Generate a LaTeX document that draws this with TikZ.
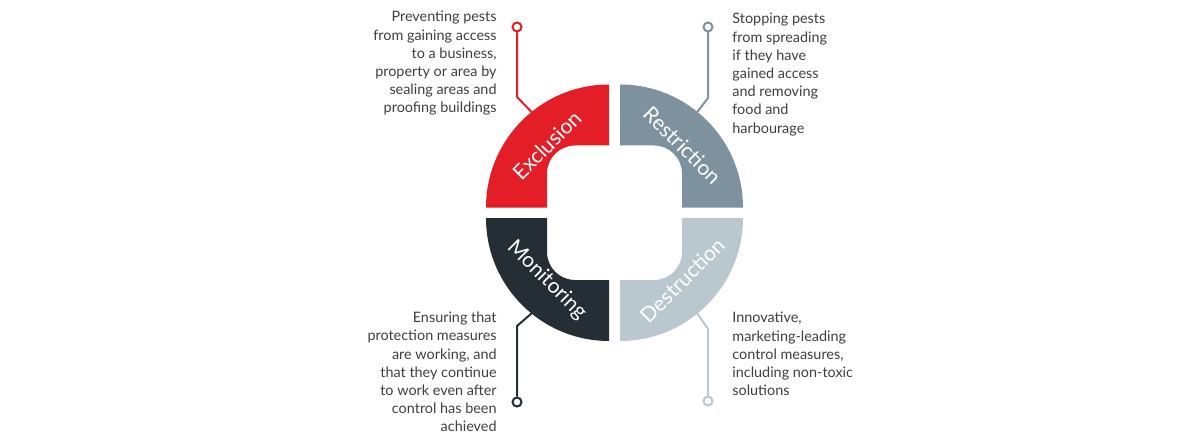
\documentclass[tikz,border=0pt]{standalone}
\usepackage{fontspec}
\setmainfont{Lato}
\usepackage{xcolor}
\usetikzlibrary{calc}
\definecolor{exred}{HTML}{E31E26}
\definecolor{rsgrey}{HTML}{7D919E}
\definecolor{mndark}{HTML}{262E35}
\definecolor{dslight}{HTML}{B9C7CE}
\definecolor{txgrey}{HTML}{3E3E3E}
\tikzset{
  ringseg/.pic = {
    \fill (-62,0) -- (-123,0) arc[start angle=180, end angle=90, radius=123]
      -- (0,62) -- (-34,62) arc[start angle=90, end angle=180, radius=28]
      -- cycle;
  },
  seglbl/.style = {text=white, font=\fontsize{10.5}{12}\selectfont, inner sep=0pt},
  desc/.style   = {text=txgrey, font=\fontsize{7.2}{9.1}\selectfont, inner sep=0pt},
  pin/.style    = {circle, draw=#1, line width=1pt, fill=white,
                   minimum size=4.5pt, inner sep=0pt},
  lnk/.style    = {draw=#1, line width=1pt},
}
\begin{document}
\begin{tikzpicture}[x=0.5pt, y=0.5pt]
  \useasboundingbox (0,0) rectangle (1200,440);
  \coordinate (pe) at (609,232.5);
  \coordinate (pr) at (620,232.5);
  \coordinate (pm) at (609,222);
  \coordinate (pd) at (620,222);

  \pic[fill=exred] at (pe) {ringseg};
  \pic[fill=rsgrey, xscale=-1] at (pr) {ringseg};
  \pic[fill=mndark, yscale=-1] at (pm) {ringseg};
  \pic[fill=dslight, xscale=-1, yscale=-1] at (pd) {ringseg};

  \node[seglbl, rotate=45]  (lexc) at ($(pe)+(135:88)$) {Exclusion};
  \node[seglbl, rotate=-45] (lres) at ($(pr)+(45:88)$) {Restriction};
  \node[seglbl, rotate=-45] (lmon) at ($(pm)+(225:88)$) {Monitoring};
  \node[seglbl, rotate=45]  (ldes) at ($(pd)+(315:88)$) {Destruction};

  \node[pin=exred]   (pine) at (517,413) {};
  \node[pin=rsgrey]  (pinr) at (708,413) {};
  \node[pin=mndark]  (pinm) at (517,38) {};
  \node[pin=dslight] (pind) at (708,39) {};
  \coordinate (bnde) at (517,343);
  \coordinate (bndr) at (708,342);
  \coordinate (bndm) at (517,114);
  \coordinate (bndd) at (708,111);
  \coordinate (atte) at ($(pe)+(129:122)$);
  \coordinate (attr) at ($(pr)+(51:122)$);
  \coordinate (attm) at ($(pm)+(231:122)$);
  \coordinate (attd) at ($(pd)+(309:122)$);
  \draw[lnk=exred] (pine) -- (bnde) -- (atte);
  \draw[lnk=rsgrey] (pinr) -- (bndr) -- (attr);
  \draw[lnk=mndark] (pinm) -- (bndm) -- (attm);
  \draw[lnk=dslight] (pind) -- (bndd) -- (attd);

  \node[desc, anchor=east, align=right] (texc) at (497,376.5)
    {Preventing pests\\from gaining access\\to a business,\\property or area by\\sealing areas and\\proofing buildings};
  \node[desc, anchor=west, align=left] (tres) at (732,365.5)
    {Stopping pests\\from spreading\\if they have\\gained access\\and removing\\food and\\harbourage};
  \node[desc, anchor=east, align=right] (tmon) at (497,68)
    {Ensuring that\\protection measures\\are working, and\\that they continue\\to work even after\\control has been\\achieved};
  \node[desc, anchor=west, align=left] (tdes) at (732,86)
    {Innovative,\\marketing-leading\\control measures,\\including non-toxic\\solutions};
\end{tikzpicture}
\end{document}
